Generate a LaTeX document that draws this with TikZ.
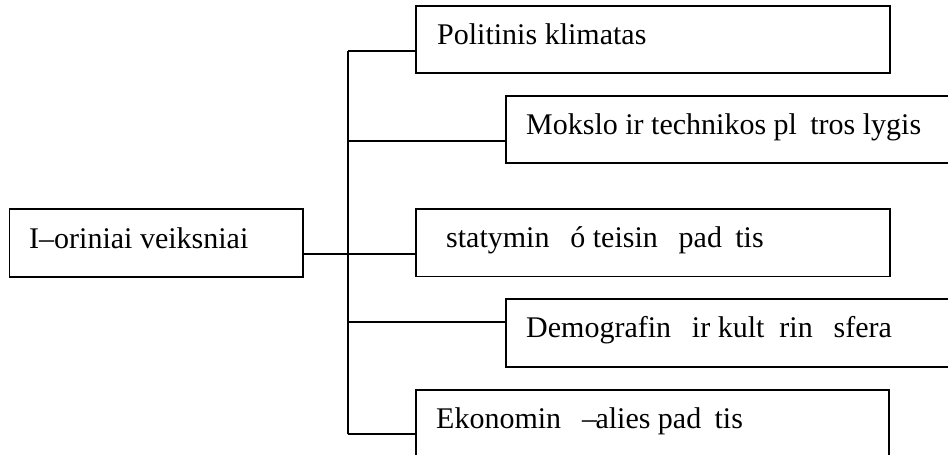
\documentclass[tikz,border=0pt]{standalone}
\usepackage{fontspec}
\setmainfont{Liberation Serif}
\begin{document}
\begin{tikzpicture}[x=1pt,y=-1pt,
  box/.style={draw=black, line width=1.2pt, anchor=north west, inner sep=0pt, outer sep=0pt},
  txt/.style={anchor=base west, inner sep=0pt, font=\fontsize{30}{36}\selectfont},
  conn/.style={draw=black, line width=1.2pt}]
\useasboundingbox (0,0) rectangle (948,455);
\clip (0,0) rectangle (948,455);
% boxes
\node[box, minimum width=293.5pt, minimum height=68pt] (L) at (9.5,209) {};
\node[box, minimum width=474pt, minimum height=67pt] (b1) at (416,6) {};
\node[box, minimum width=470pt, minimum height=67pt] (b2) at (506,96) {};
\node[box, minimum width=474pt, minimum height=67.5pt] (b3) at (416,209) {};
\node[box, minimum width=470pt, minimum height=68pt] (b4) at (506,299) {};
\node[box, minimum width=473pt, minimum height=90pt] (b5) at (416,390) {};
% texts
\node[txt] (Lt) at (29,248) {I–oriniai veiksniai};
\node[txt] (b1t) at (437,44) {Politinis klimatas};
\node[txt] (b2t) at (526,134) {Mokslo ir technikos pl\hspace{.444em}tros lygis};
\node[txt] (b3t) at (436,247) {\hspace{.333em}statymin\hspace{.444em} ó teisin\hspace{.444em} pad\hspace{.444em}tis};
\node[txt] (b4t) at (526,337) {Demografin\hspace{.444em} ir kult\hspace{.5em}rin\hspace{.444em} sfera};
\node[txt] (b5t) at (436,428) {Ekonomin\hspace{.444em} –\kern-0.05em alies pad\hspace{.444em}tis};
% trunk coordinates
\coordinate (t1) at (348,51);
\coordinate (t2) at (348,141);
\coordinate (t3) at (348,254);
\coordinate (t4) at (348,322);
\coordinate (t5) at (348,434);
% connectors
\draw[conn] (t1) -- (t5);
\draw[conn] (t1) -- (t1 -| b1.west);
\draw[conn] (t2) -- (t2 -| b2.west);
\draw[conn] (t3 -| L.east) -- (t3 -| b3.west);
\draw[conn] (t4) -- (t4 -| b4.west);
\draw[conn] (t5) -- (t5 -| b5.west);
\end{tikzpicture}
\end{document}
